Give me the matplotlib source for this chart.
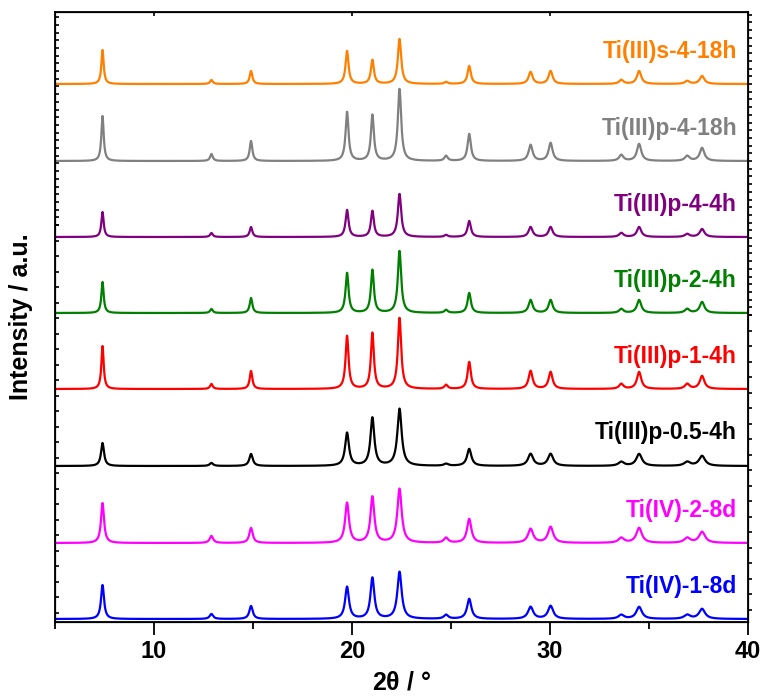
import numpy as np
import matplotlib
matplotlib.use('Agg')
import matplotlib.pyplot as plt
from matplotlib.ticker import MultipleLocator, FixedLocator, NullFormatter

plt.rcParams['font.family'] = ['Liberation Sans', 'DejaVu Sans']
plt.rcParams['font.weight'] = 'bold'

# peak positions (2theta, deg) shared by all patterns
peak_pos = [7.4, 12.9, 14.9, 19.75, 21.03, 22.4, 24.75, 25.92,
            29.02, 30.03, 33.6, 34.5, 36.93, 37.68]
# base half widths for each peak
peak_hw = [0.07, 0.08, 0.08, 0.09, 0.09, 0.1, 0.1, 0.1,
           0.12, 0.12, 0.13, 0.13, 0.14, 0.14]

# bottom to top
labels = ['Ti(IV)-1-8d', 'Ti(IV)-2-8d', 'Ti(III)p-0.5-4h', 'Ti(III)p-1-4h',
          'Ti(III)p-2-4h', 'Ti(III)p-4-4h', 'Ti(III)p-4-18h', 'Ti(III)s-4-18h']
colors = ['#0000FF', '#FF00FF', '#000000', '#FF0000',
          '#008000', '#800080', '#808080', '#FF8000']
offsets = [3, 79, 156, 233, 309, 385, 461, 538]
width_scale = [1.3, 1.3, 1.3, 1.0, 1.0, 1.0, 1.0, 1.0]

heights = [
    [34, 5, 13, 32, 41, 47, 4, 20, 12, 13, 4, 12, 4, 10],   # Ti(IV)-1-8d
    [40, 7, 15, 40, 46, 54, 5, 24, 14, 16, 5, 15, 5, 11],   # Ti(IV)-2-8d
    [23, 3, 12, 33, 48, 57, 2, 17, 12, 12, 4, 12, 4, 10],   # Ti(III)p-0.5-4h
    [43, 5, 18, 53, 56, 71, 4, 27, 18, 17, 5, 17, 5, 13],   # Ti(III)p-1-4h
    [31, 4, 15, 40, 43, 62, 3, 20, 13, 13, 4, 13, 4, 11],   # Ti(III)p-2-4h
    [25, 4, 10, 27, 26, 43, 2, 16, 10, 10, 4, 10, 3, 8],    # Ti(III)p-4-4h
    [45, 7, 20, 49, 46, 72, 5, 27, 16, 18, 6, 17, 5, 13],   # Ti(III)p-4-18h
    [34, 4, 13, 33, 24, 45, 2, 18, 12, 13, 4, 13, 3, 8],    # Ti(III)s-4-18h
]

two_theta = np.linspace(5, 40, 3500)


def pattern(h, ws):
    y = np.zeros_like(two_theta)
    for p, w, a in zip(peak_pos, peak_hw, h):
        w = w * ws
        y += a * w**2 / ((two_theta - p)**2 + w**2)
    return y


fig = plt.figure(figsize=(7.62, 6.97), dpi=100)
ax = fig.add_axes([55/762, 75/697, 693/762, 610/697])

for lab, c, off, h, ws in zip(labels, colors, offsets, heights, width_scale):
    ax.plot(two_theta, pattern(h, ws) + off, color=c, lw=1.6)
    ax.text(0.984, off + 33, lab, color=c, fontsize=16.5, fontweight='bold',
            ha='right', va='center', transform=ax.get_yaxis_transform())

ax.set_xlim(5, 40)
ax.set_ylim(0, 610)
for s in ax.spines.values():
    s.set_linewidth(1.3)

# bottom x axis
ax.xaxis.set_major_locator(MultipleLocator(10))
ax.xaxis.set_minor_locator(MultipleLocator(5))
ax.tick_params(axis='x', which='major', direction='out', length=9, width=1.3,
               labelsize=17, pad=4)
ax.tick_params(axis='x', which='minor', direction='out', length=5, width=1.3)
for t in ax.get_xticklabels():
    t.set_fontweight('bold')

# left y axis: inward small ticks, no labels
left_ticks = list(np.arange(397, 0, -15.5)) + list(np.arange(397, 611, 7.7))
ax.yaxis.set_major_locator(FixedLocator(left_ticks))
ax.yaxis.set_major_formatter(NullFormatter())
ax.tick_params(axis='y', which='major', direction='in', length=3, width=1.2)

# top axis: small inward ticks
axt = ax.twiny()
axt.set_xlim(5, 40)
axt.xaxis.set_major_locator(MultipleLocator(10))
axt.tick_params(axis='x', direction='in', length=3, width=1.2, labeltop=False)

# right axis: outward small ticks
axr = ax.twinx()
axr.set_ylim(0, 610)
right_ticks = list(np.arange(307, 0, -15.5)) + list(np.arange(307, 611, 7.7))
axr.yaxis.set_major_locator(FixedLocator(right_ticks))
axr.yaxis.set_major_formatter(NullFormatter())
axr.tick_params(axis='y', direction='out', length=3, width=1.2)

ax.set_xlabel(r'2$\mathregular{\theta}$ / °', fontsize=18, fontweight='bold',
              labelpad=5)
ax.set_ylabel('Intensity / a.u.', fontsize=18, fontweight='bold', labelpad=12)

fig.savefig('out.png', dpi=100)
